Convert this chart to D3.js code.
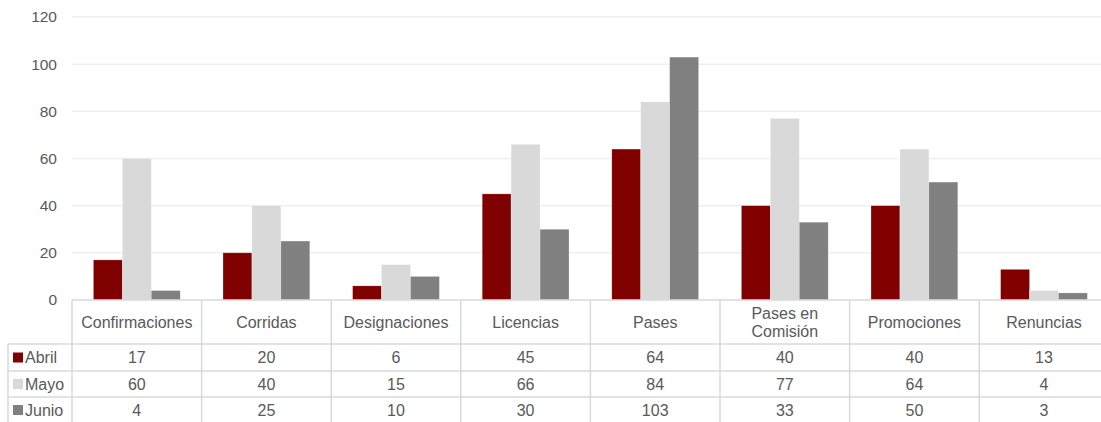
<!DOCTYPE html>
<html>
<head>
<meta charset="utf-8">
<script src="https://cdn.jsdelivr.net/npm/d3@7"></script>
<style>
  body { margin: 0; background: #fff; }
  text { font-family: "Liberation Sans", Arial, sans-serif; fill: #595959; }
</style>
</head>
<body>
<svg id="chart"></svg>
<script>
// data
var categories = ["Confirmaciones", "Corridas", "Designaciones", "Licencias", "Pases", "Pases en\nComisión", "Promociones", "Renuncias"];
var seriesNames = ["Abril", "Mayo", "Junio"];
var abril = [17, 20, 6, 45, 64, 40, 40, 13];
var mayo = [60, 40, 15, 66, 84, 77, 64, 4];
var junio = [4, 25, 10, 30, 103, 33, 50, 3];
var yTicks = [0, 20, 40, 60, 80, 100, 120];

var colors = ["#800000", "#d9d9d9", "#808080"];
var series = [abril, mayo, junio];

var svgWidth = 1101, svgHeight = 422;
var plotLeft = 72, colWidth = 129.6;
var plotTop = 17, plotBottom = 300;
var rowTops = [300, 344, 371, 397, 423];
var gridColor = "#d9d9d9";
var fontSize = "16px";

var svg = d3.select("#chart")
    .attr("width", svgWidth)
    .attr("height", svgHeight);

var x = d3.scaleBand()
    .domain(d3.range(categories.length))
    .range([plotLeft, plotLeft + colWidth * categories.length])
    .paddingInner(0)
    .paddingOuter(0);

var xInner = d3.scaleBand()
    .domain(d3.range(seriesNames.length))
    .range([0, x.bandwidth()])
    .paddingOuter(0.74)
    .paddingInner(0);

var y = d3.scaleLinear()
    .domain([0, 120])
    .range([plotBottom, plotTop]);

// gridlines
svg.append("g")
    .selectAll("line")
    .data(yTicks.filter(function (d) { return d > 0; }))
    .enter()
    .append("line")
    .attr("x1", plotLeft)
    .attr("x2", svgWidth)
    .attr("y1", function (d) { return y(d); })
    .attr("y2", function (d) { return y(d); })
    .attr("stroke", "#efefef")
    .attr("stroke-width", 1.5);

// y labels
svg.append("g")
    .selectAll("text")
    .data(yTicks)
    .enter()
    .append("text")
    .attr("x", 57)
    .attr("y", function (d) { return y(d); })
    .attr("dy", "0.35em")
    .attr("text-anchor", "end")
    .style("font-size", "15.5px")
    .text(function (d) { return d; });

// bars
series.forEach(function (vals, s) {
    svg.append("g")
        .selectAll("rect")
        .data(vals)
        .enter()
        .append("rect")
        .attr("x", function (d, i) { return x(i) + xInner(s); })
        .attr("y", function (d) { return y(d); })
        .attr("width", xInner.bandwidth())
        .attr("height", function (d) { return y(0) - y(d); })
        .attr("fill", colors[s])
        .attr("stroke", "#ffffff")
        .attr("stroke-opacity", 0.4)
        .attr("stroke-width", 0.6);
});

// table
var table = svg.append("g");
// horizontal lines
table.append("line")
    .attr("x1", plotLeft).attr("x2", svgWidth)
    .attr("y1", rowTops[0]).attr("y2", rowTops[0])
    .attr("stroke", gridColor).attr("stroke-width", 1.5);
rowTops.slice(1, 4).forEach(function (ty) {
    table.append("line")
        .attr("x1", 8).attr("x2", svgWidth)
        .attr("y1", ty).attr("y2", ty)
        .attr("stroke", gridColor).attr("stroke-width", 1.5);
});
// vertical lines
table.append("line")
    .attr("x1", 8).attr("x2", 8)
    .attr("y1", rowTops[1]).attr("y2", svgHeight)
    .attr("stroke", gridColor).attr("stroke-width", 1.5);
d3.range(categories.length + 1).forEach(function (i) {
    var lx = plotLeft + colWidth * i;
    table.append("line")
        .attr("x1", lx).attr("x2", lx)
        .attr("y1", rowTops[0]).attr("y2", svgHeight)
        .attr("stroke", gridColor).attr("stroke-width", 1.5);
});

// headers
categories.forEach(function (c, i) {
    var lines = c.split("\n");
    var cy = (rowTops[0] + rowTops[1]) / 2;
    var t = table.append("text")
        .attr("x", x(i) + x.bandwidth() / 2)
        .attr("text-anchor", "middle")
        .style("font-size", fontSize);
    lines.forEach(function (ln, k) {
        t.append("tspan")
            .attr("x", x(i) + x.bandwidth() / 2)
            .attr("y", cy + (k - (lines.length - 1) / 2) * 18)
            .attr("dy", "0.35em")
            .text(ln);
    });
});

// rows
series.forEach(function (vals, s) {
    var cy = (rowTops[s + 1] + rowTops[s + 2]) / 2;
    table.append("rect")
        .attr("x", 13).attr("y", cy - 5)
        .attr("width", 10).attr("height", 10)
        .attr("fill", colors[s]);
    table.append("text")
        .attr("x", 25).attr("y", cy)
        .attr("dy", "0.35em")
        .style("font-size", fontSize)
        .text(seriesNames[s]);
    table.append("g")
        .selectAll("text")
        .data(vals)
        .enter()
        .append("text")
        .attr("x", function (d, i) { return x(i) + x.bandwidth() / 2; })
        .attr("y", cy)
        .attr("dy", "0.35em")
        .attr("text-anchor", "middle")
        .style("font-size", fontSize)
        .text(function (d) { return d; });
});
</script>
</body>
</html>
